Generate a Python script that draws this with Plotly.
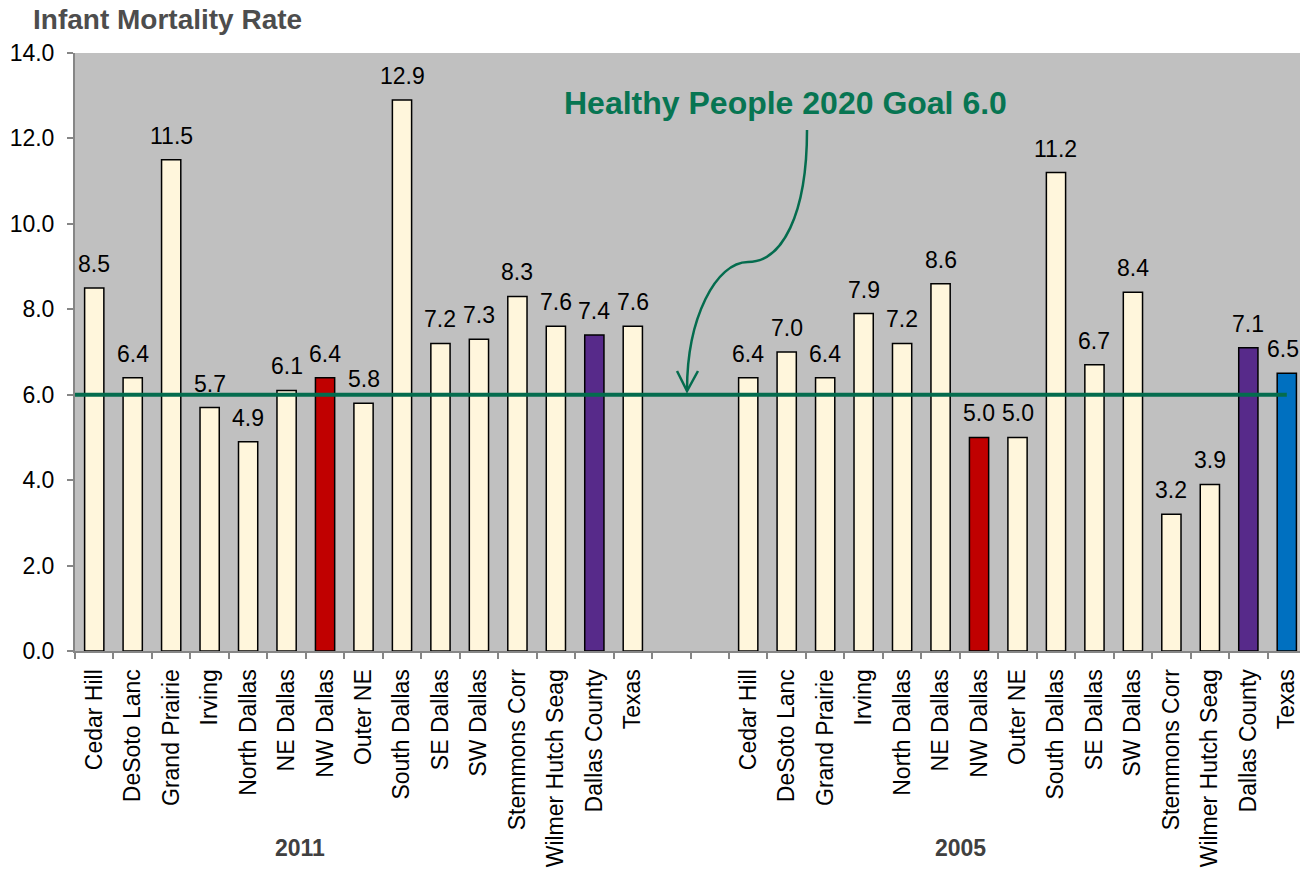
import plotly.graph_objects as go

areas = ["Cedar Hill", "DeSoto Lanc", "Grand Prairie", "Irving", "North Dallas", "NE Dallas",
         "NW Dallas", "Outer NE", "South Dallas", "SE Dallas", "SW Dallas", "Stemmons Corr",
         "Wilmer Hutch Seag", "Dallas County", "Texas"]
rates_2011 = [8.5, 6.4, 11.5, 5.7, 4.9, 6.1, 6.4, 5.8, 12.9, 7.2, 7.3, 8.3, 7.6, 7.4, 7.6]
rates_2005 = [6.4, 7.0, 6.4, 7.9, 7.2, 8.6, 5.0, 5.0, 11.2, 6.7, 8.4, 3.2, 3.9, 7.1, 6.5]
years = ["2011", "2005"]
goal_value = 6.0
goal_label = "Healthy People 2020 Goal 6.0"

CREAM = "#FFF6DC"
RED = "#C00000"
PURPLE = "#572A8A"
BLUE = "#0070C0"
GREEN = "#046C4E"

def colors_for(group_year):
    cols = []
    for a in areas:
        if a == "NW Dallas":
            cols.append(RED)
        elif a == "Dallas County":
            cols.append(PURPLE)
        elif a == "Texas" and group_year == "2005":
            cols.append(BLUE)
        else:
            cols.append(CREAM)
    return cols

n = len(areas)
gap = 2
x2011 = list(range(n))
x2005 = [i + n + gap for i in range(n)]

FONT = "Arial, Liberation Sans, sans-serif"

fig = go.Figure()
for xs, vals, yr in [(x2011, rates_2011, "2011"), (x2005, rates_2005, "2005")]:
    fig.add_trace(go.Bar(
        x=xs, y=vals, width=0.5,
        marker=dict(color=colors_for(yr), line=dict(color="black", width=1.5)),
        showlegend=False, name=yr, hovertemplate="%{y:.1f}<extra></extra>",
    ))
    for i, (xv, v) in enumerate(zip(xs, vals)):
        last = (yr == "2005" and i == len(xs) - 1)
        fig.add_annotation(x=xv, y=v, xref="x", yref="y", text=f"{v:.1f}", showarrow=False,
                           yanchor="bottom", yshift=9, xshift=-4 if last else 0,
                           font=dict(family=FONT, size=23, color="black"))

# goal line
fig.add_trace(go.Scatter(
    x=[-0.5, x2005[-1]], y=[goal_value, goal_value], mode="lines",
    line=dict(color=GREEN, width=4), showlegend=False, hoverinfo="skip",
))

# plot geometry for annotation positions (pixels)
L, T, W, H = 75, 53, 1301, 874
B = 223
slot = 38.47
plot_w = W - L - 1
x_range = [-0.5, -0.5 + plot_w / slot]

def px_x(px):
    return (px - L) / slot - 0.5

def px_y(py):
    return (651 - py) / ((651 - 53) / 14.0)

pts = [(807, 130), (807, 215), (782, 262), (748, 262), (716, 262), (687, 318), (687, 390)]
d = "M {:.3f},{:.3f} C {:.3f},{:.3f} {:.3f},{:.3f} {:.3f},{:.3f} C {:.3f},{:.3f} {:.3f},{:.3f} {:.3f},{:.3f}".format(
    *[v for p in pts for v in (px_x(p[0]), px_y(p[1]))])
fig.add_shape(type="path", path=d, xref="x", yref="y",
              line=dict(color=GREEN, width=2.5))
head = [(677, 371), (687, 391), (698, 371)]
d2 = "M {:.3f},{:.3f} L {:.3f},{:.3f} L {:.3f},{:.3f}".format(
    *[v for p in head for v in (px_x(p[0]), px_y(p[1]))])
fig.add_shape(type="path", path=d2, xref="x", yref="y",
              line=dict(color=GREEN, width=2.5))

fig.add_annotation(x=px_x(785), y=px_y(103), xref="x", yref="y", text=f"<b>{goal_label}</b>",
                   showarrow=False, font=dict(family=FONT, size=32, color="#077552"))

# year group labels
for xv, yr in [(px_x(300), years[0]), (px_x(960), years[1])]:
    fig.add_annotation(x=xv, y=-(848 - 651) / (651 - 53), xref="x", yref="paper",
                       xanchor="center", yanchor="middle",
                       text=f"<b>{yr}</b>", showarrow=False,
                       font=dict(family=FONT, size=23, color="#404040"))

fig.update_layout(
    width=W, height=H,
    margin=dict(l=L, r=1, t=T, b=B),
    plot_bgcolor="#C0C0C0", paper_bgcolor="white",
    bargap=0.5,
    title=dict(text="<b>Infant Mortality Rate</b>", x=33 / W, xref="container", xanchor="left",
               y=1 - 19 / H, yref="container", yanchor="middle",
               font=dict(family=FONT, size=28, color="#4D4D4D")),
    font=dict(family=FONT, color="black"),
)
fig.update_xaxes(
    range=x_range, tickvals=x2011 + x2005, ticktext=areas + areas, tickangle=-90,
    ticks="", showgrid=False, zeroline=False, showline=True, linecolor="#868686", linewidth=2,
    tickfont=dict(family=FONT, size=23, color="black"), ticklabelstandoff=7,
    minor=dict(tickmode="linear", tick0=0.5, dtick=1, ticks="outside", ticklen=6,
               tickcolor="#868686", tickwidth=2, showgrid=False),
)
fig.update_yaxes(
    range=[0, 14], tickvals=[0, 2, 4, 6, 8, 10, 12, 14], tickformat=".1f",
    ticks="outside", ticklen=6, tickcolor="#868686", tickwidth=2,
    showgrid=False, zeroline=False, showline=True, linecolor="#868686", linewidth=2,
    tickfont=dict(family=FONT, size=23, color="black"), ticklabelstandoff=8,
)

fig.write_html("out.html", config={"displayModeBar": False},
               post_script="document.body.style.margin='0';document.body.style.overflow='hidden';")
